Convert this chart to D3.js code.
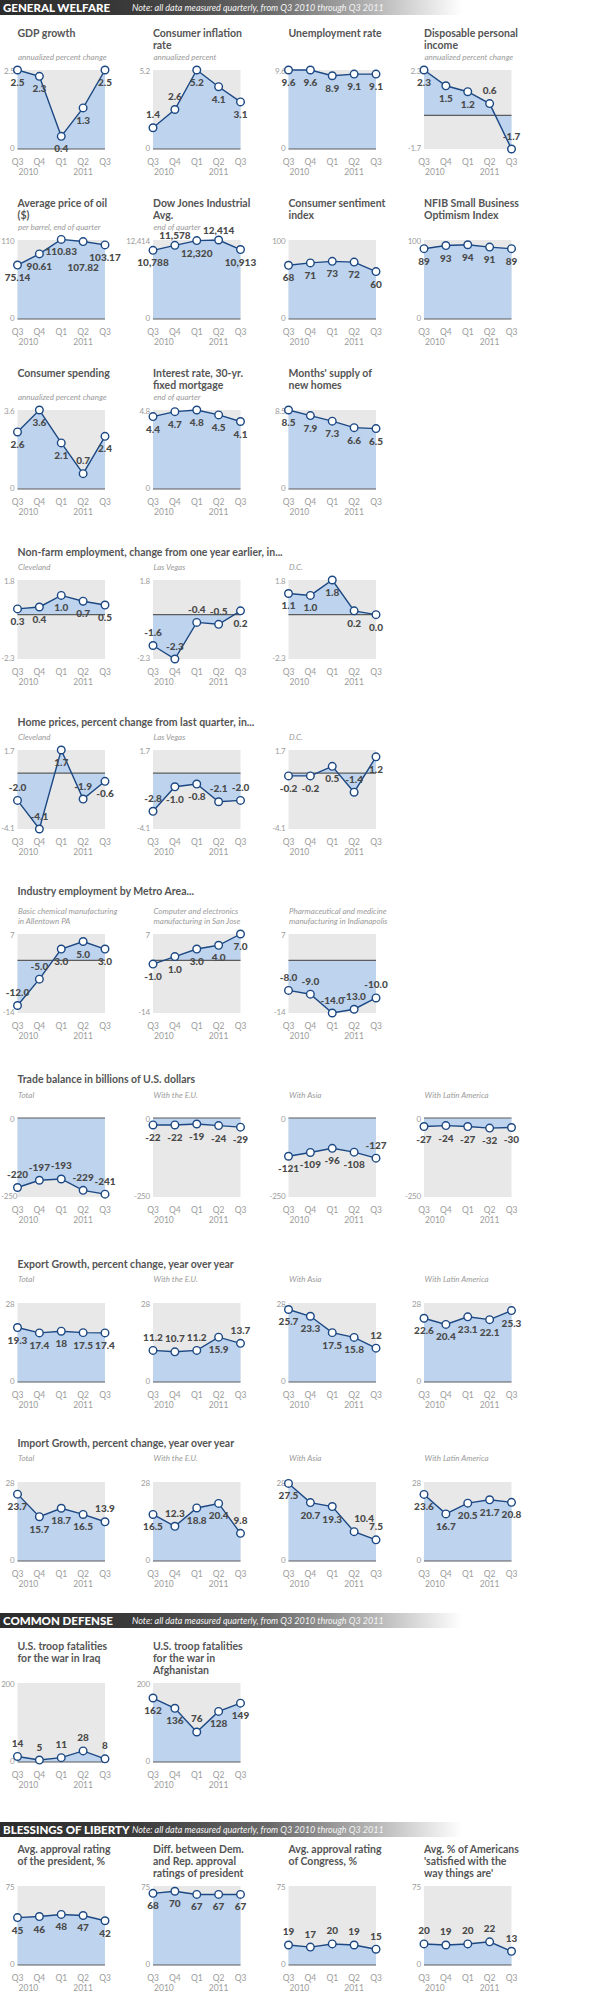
<!DOCTYPE html>
<html><head><meta charset="utf-8">
<script src="https://cdn.jsdelivr.net/npm/d3@7"></script>
<style>body{margin:0;background:#fff}svg{display:block}</style>
</head><body>
<svg id="c" width="600" height="2000"></svg>
<script>
// ---------- categories ----------
const quarters = ["Q3","Q4","Q1","Q2","Q3"];
const yearLabels = ["2010","2011"];
const sectionNames = ["GENERAL WELFARE","COMMON DEFENSE","BLESSINGS OF LIBERTY"];
const noteText = "Note: all data measured quarterly, from Q3 2010 through Q3 2011";

// ---------- General welfare ----------
const gdpGrowth = [2.5, 2.3, 0.4, 1.3, 2.5];
const consumerInflation = [1.4, 2.6, 5.2, 4.1, 3.1];
const unemployment = [9.6, 9.6, 8.9, 9.1, 9.1];
const disposableIncome = [2.3, 1.5, 1.2, 0.6, -1.7];
const oilPrice = [75.14, 90.61, 110.83, 107.82, 103.17];
const dowJones = [10788, 11578, 12320, 12414, 10913];
const consumerSentiment = [68, 71, 73, 72, 60];
const nfibIndex = [89, 93, 94, 91, 89];
const consumerSpending = [2.6, 3.6, 2.1, 0.7, 2.4];
const mortgageRate = [4.4, 4.7, 4.8, 4.5, 4.1];
const monthsSupply = [8.5, 7.9, 7.3, 6.6, 6.5];
const nonfarmCleveland = [0.3, 0.4, 1.0, 0.7, 0.5];
const nonfarmLasVegas = [-1.6, -2.3, -0.4, -0.5, 0.2];
const nonfarmDC = [1.1, 1.0, 1.8, 0.2, 0.0];
const homeCleveland = [-2.0, -4.1, 1.7, -1.9, -0.6];
const homeLasVegas = [-2.8, -1.0, -0.8, -2.1, -2.0];
const homeDC = [-0.2, -0.2, 0.5, -1.4, 1.2];
const indAllentown = [-12.0, -5.0, 3.0, 5.0, 3.0];
const indSanJose = [-1.0, 1.0, 3.0, 4.0, 7.0];
const indIndianapolis = [-8.0, -9.0, -14.0, -13.0, -10.0];
const tradeTotal = [-220, -197, -193, -229, -241];
const tradeEU = [-22, -22, -19, -24, -29];
const tradeAsia = [-121, -109, -96, -108, -127];
const tradeLatin = [-27, -24, -27, -32, -30];
const exportTotal = [19.3, 17.4, 18, 17.5, 17.4];
const exportEU = [11.2, 10.7, 11.2, 15.9, 13.7];
const exportAsia = [25.7, 23.3, 17.5, 15.8, 12];
const exportLatin = [22.6, 20.4, 23.1, 22.1, 25.3];
const importTotal = [23.7, 15.7, 18.7, 16.5, 13.9];
const importEU = [16.5, 12.3, 18.8, 20.4, 9.8];
const importAsia = [27.5, 20.7, 19.3, 10.4, 7.5];
const importLatin = [23.6, 16.7, 20.5, 21.7, 20.8];
// ---------- Common defense ----------
const iraqFatalities = [14, 5, 11, 28, 8];
const afghanFatalities = [162, 136, 76, 128, 149];
// ---------- Blessings of liberty ----------
const presidentApproval = [45, 46, 48, 47, 42];
const partisanGap = [68, 70, 67, 67, 67];
const congressApproval = [19, 17, 20, 19, 15];
const satisfiedShare = [20, 19, 20, 22, 13];

// ---------- axis ranges (min, max tick) ----------
const ranges = {
  gdp:[0,2.5], infl:[0,5.2], unemp:[0,9.6], disp:[-1.7,2.3],
  oil:[0,110], dow:[0,12414], sent:[0,100], nfib:[0,100],
  spend:[0,3.6], mort:[0,4.8], supply:[0,8.5],
  nonfarm:[-2.3,1.8], home:[-4.1,1.7], ind:[-14,7], trade:[-250,0],
  growth:[0,28], fatal:[0,200], approval:[0,75]
};

// ---------- formatting ----------
const num = v => (v < 0 ? "-" : "") + d3.format(",")(Math.abs(v));
const fix1 = v => (v < 0 ? "-" : "") + Math.abs(v).toFixed(1);

// ---------- layout ----------
const colX = i => 17.5 + 135.5 * i;
const plotW = 87.5, plotH = 79;
const C = {
  bg:"#e8e8e8", fill:"#bdd3ee", line:"#1c4883", zero:"#5c5c5c",
  title:"#555", sub:"#9a9a9a", tick:"#9c9c9c", val:"#4a4a4a"
};
const FONT = "Lato, 'Open Sans', sans-serif";

const charts = [
  {t:["GDP growth"], s:["annualized percent change"], v:gdpGrowth, d:ranges.gdp, col:0, top:70, lab:"bbbbb"},
  {t:["Consumer inflation","rate"], s:["annualized percent"], v:consumerInflation, d:ranges.infl, col:1, top:70, lab:"aabbb"},
  {t:["Unemployment rate"], v:unemployment, d:ranges.unemp, col:2, top:70, lab:"bbbbb"},
  {t:["Disposable personal","income"], s:["annualized percent change"], v:disposableIncome, d:ranges.disp, col:3, top:70, lab:"bbbaa"},
  {t:["Average price of oil","($)"], s:["per barrel, end of quarter"], v:oilPrice, d:ranges.oil, col:0, top:240, lab:"bbbBb"},
  {t:["Dow Jones Industrial","Avg."], s:["end of quarter"], v:dowJones, d:ranges.dow, col:1, top:240, lab:"bcbcb"},
  {t:["Consumer sentiment","index"], v:consumerSentiment, d:ranges.sent, col:2, top:240, lab:"bbbbb"},
  {t:["NFIB Small Business","Optimism Index"], v:nfibIndex, d:ranges.nfib, col:3, top:240, lab:"bbbbb"},
  {t:["Consumer spending"], s:["annualized percent change"], v:consumerSpending, d:ranges.spend, col:0, top:410, lab:"bbbab"},
  {t:["Interest rate, 30-yr.","fixed mortgage"], s:["end of quarter"], v:mortgageRate, d:ranges.mort, col:1, top:410, lab:"bbbbb"},
  {t:["Months' supply of","new homes"], v:monthsSupply, d:ranges.supply, col:2, top:410, lab:"bbbbb"},

  {s:["Cleveland"], v:nonfarmCleveland, d:ranges.nonfarm, col:0, top:580, lab:"bbbbb", f:fix1},
  {s:["Las Vegas"], v:nonfarmLasVegas, d:ranges.nonfarm, col:1, top:580, lab:"aaaab", f:fix1},
  {s:["D.C."], v:nonfarmDC, d:ranges.nonfarm, col:2, top:580, lab:"bbbbb", f:fix1},

  {s:["Cleveland"], v:homeCleveland, d:ranges.home, col:0, top:750, lab:"aabab", f:fix1},
  {s:["Las Vegas"], v:homeLasVegas, d:ranges.home, col:1, top:750, lab:"abbaa", f:fix1},
  {s:["D.C."], v:homeDC, d:ranges.home, col:2, top:750, lab:"bbbab", f:fix1},

  {s:["Basic chemical manufacturing","in Allentown PA"], v:indAllentown, d:ranges.ind, col:0, top:934, lab:"aabbb", f:fix1},
  {s:["Computer and electronics","manufacturing in San Jose"], v:indSanJose, d:ranges.ind, col:1, top:934, lab:"bbbbb", f:fix1},
  {s:["Pharmaceutical and medicine","manufacturing in Indianapolis"], v:indIndianapolis, d:ranges.ind, col:2, top:934, lab:"aaaaa", f:fix1},

  {s:["Total"], v:tradeTotal, d:ranges.trade, col:0, top:1118, lab:"aaaaa", sgap:20},
  {s:["With the E.U."], v:tradeEU, d:ranges.trade, col:1, top:1118, lab:"bbbbb", sgap:20},
  {s:["With Asia"], v:tradeAsia, d:ranges.trade, col:2, top:1118, lab:"bbbba", sgap:20},
  {s:["With Latin America"], v:tradeLatin, d:ranges.trade, col:3, top:1118, lab:"bbbbb", sgap:20},

  {s:["Total"], v:exportTotal, d:ranges.growth, col:0, top:1303, lab:"bbbbb", sgap:21},
  {s:["With the E.U."], v:exportEU, d:ranges.growth, col:1, top:1303, lab:"aaaba", sgap:21},
  {s:["With Asia"], v:exportAsia, d:ranges.growth, col:2, top:1303, lab:"bbbba", sgap:21},
  {s:["With Latin America"], v:exportLatin, d:ranges.growth, col:3, top:1303, lab:"bbbbb", sgap:21},

  {s:["Total"], v:importTotal, d:ranges.growth, col:0, top:1482, lab:"bbbba", sgap:21},
  {s:["With the E.U."], v:importEU, d:ranges.growth, col:1, top:1482, lab:"babba", sgap:21},
  {s:["With Asia"], v:importAsia, d:ranges.growth, col:2, top:1482, lab:"bbbAa", sgap:21},
  {s:["With Latin America"], v:importLatin, d:ranges.growth, col:3, top:1482, lab:"bbbbb", sgap:21},

  {t:["U.S. troop fatalities","for the war in Iraq"], v:iraqFatalities, d:ranges.fatal, col:0, top:1683, lab:"aaaaa"},
  {t:["U.S. troop fatalities","for the war in","Afghanistan"], v:afghanFatalities, d:ranges.fatal, col:1, top:1683, lab:"bbabb"},

  {t:["Avg. approval rating","of the president, %"], v:presidentApproval, d:ranges.approval, col:0, top:1886, lab:"bbbbb"},
  {t:["Diff. between Dem.","and Rep. approval","ratings of president"], v:partisanGap, d:ranges.approval, col:1, top:1886, lab:"bbbbb"},
  {t:["Avg. approval rating","of Congress, %"], v:congressApproval, d:ranges.approval, col:2, top:1886, lab:"aaaaa"},
  {t:["Avg. % of Americans","'satisfied with the","way things are'"], v:satisfiedShare, d:ranges.approval, col:3, top:1886, lab:"aaaaa"}
];

const sectionTitles = [
  {text:"Non-farm employment, change from one year earlier, in...", y:556},
  {text:"Home prices, percent change from last quarter, in...", y:726},
  {text:"Industry employment by Metro Area...", y:895},
  {text:"Trade balance in billions of U.S. dollars", y:1083},
  {text:"Export Growth, percent change, year over year", y:1268},
  {text:"Import Growth, percent change, year over year", y:1447}
];
const headerBars = [{y:0},{y:1613},{y:1822}];

// ---------- drawing ----------
const svg = d3.select("#c");
const defs = svg.append("defs");
const grad = defs.append("linearGradient").attr("id","hg").attr("x1","0").attr("x2","1").attr("y1","0").attr("y2","0");
[["0%","#2c2c2c"],["22%","#3a3a3a"],["45%","#6a6a6a"],["62%","#b4b4b4"],["77%","#ffffff"]]
  .forEach(([o,c]) => grad.append("stop").attr("offset",o).attr("stop-color",c));

headerBars.forEach((h,i) => {
  const g = svg.append("g");
  g.append("rect").attr("x",0).attr("y",h.y).attr("width",600).attr("height",15).attr("fill","url(#hg)");
  g.append("text").attr("x",3).attr("y",h.y+12).text(sectionNames[i])
    .attr("font-family",FONT).attr("font-weight",900).attr("font-size",11.5).attr("fill","#fff");
  g.append("text").attr("x",132).attr("y",h.y+11).text(noteText)
    .attr("font-family",FONT).attr("font-style","italic").attr("font-size",9).attr("fill","#f4f4f4");
});

sectionTitles.forEach(s => {
  svg.append("text").attr("x",17.5).attr("y",s.y).text(s.text)
    .attr("font-family",FONT).attr("font-weight",700).attr("font-size",10.5).attr("fill",C.title);
});

const labOff = {b:12.5, a:-13, c:-9.5, B:26, A:-13};

charts.forEach(spec => {
  const g = svg.append("g");
  const x0 = colX(spec.col), top = spec.top, bottom = top + plotH;
  const fmt = spec.f || num;
  const x = d3.scalePoint().domain(d3.range(quarters.length)).range([x0, x0 + plotW]);
  const y = d3.scaleLinear().domain(spec.d).range([bottom, top]);

  if (spec.t) spec.t.forEach((line,i) => {
    g.append("text").attr("x",x0).attr("y",top - 33 + 12*i).text(line)
      .attr("font-family",FONT).attr("font-weight",700).attr("font-size",10.5).attr("fill",C.title);
  });
  if (spec.s) {
    const gap = spec.sgap || 10.5;
    const n = spec.s.length;
    spec.s.forEach((line,i) => {
      g.append("text").attr("x",x0+0.5).attr("y",top - gap - 10*(n-1-i)).text(line)
        .attr("font-family",FONT).attr("font-style","italic").attr("font-size",8).attr("fill",C.sub);
    });
  }

  g.append("rect").attr("x",x0).attr("y",top).attr("width",plotW).attr("height",plotH).attr("fill",C.bg);

  const area = d3.area().x((d,i)=>x(i)).y0(y(0)).y1(d=>y(d));
  g.append("path").datum(spec.v).attr("d",area).attr("fill",C.fill);

  g.append("line").attr("x1",x0).attr("x2",x0+plotW).attr("y1",y(0)).attr("y2",y(0))
    .attr("stroke",C.zero).attr("stroke-width",1.2);

  const line = d3.line().x((d,i)=>x(i)).y(d=>y(d));
  g.append("path").datum(spec.v).attr("d",line).attr("fill","none")
    .attr("stroke",C.line).attr("stroke-width",1.4);

  [[spec.d[1], top+1.5],[spec.d[0], bottom-1]].forEach(([v,yy]) => {
    const t = g.append("text").attr("x",x0-3).attr("y",yy).attr("dy","0.35em").attr("text-anchor","end")
      .text(num(v)).attr("font-family",FONT).attr("font-size",8).attr("letter-spacing",-0.2).attr("fill",C.tick);
    const w = t.node().getComputedTextLength();
    if (x0 - 3 - w < 1) t.attr("text-anchor","start").attr("x",1);
  });

  quarters.forEach((q,i) => {
    g.append("text").attr("x",x(i)).attr("y",bottom+16).attr("text-anchor","middle").text(q)
      .attr("font-family",FONT).attr("font-size",8.5).attr("fill",C.tick);
  });
  g.append("text").attr("x",(x(0)+x(1))/2).attr("y",bottom+26).attr("text-anchor","middle").text(yearLabels[0])
    .attr("font-family",FONT).attr("font-size",8.5).attr("fill",C.tick);
  g.append("text").attr("x",x(3)).attr("y",bottom+26).attr("text-anchor","middle").text(yearLabels[1])
    .attr("font-family",FONT).attr("font-size",8.5).attr("fill",C.tick);

  g.selectAll("circle").data(spec.v).join("circle")
    .attr("cx",(d,i)=>x(i)).attr("cy",d=>y(d)).attr("r",3.8)
    .attr("fill","#fff").attr("stroke",C.line).attr("stroke-width",1.4);

  g.selectAll("text.val").data(spec.v).join("text").attr("class","val")
    .attr("x",(d,i)=>x(i) + (spec.lab[i]==="A" ? 10 : 0))
    .attr("y",(d,i)=>y(d) + labOff[spec.lab[i]])
    .attr("dy","0.35em").attr("text-anchor","middle")
    .text(d=>fmt(d))
    .attr("font-family",FONT).attr("font-weight",900).attr("font-size",10).attr("fill",C.val);
});
</script>
</body></html>
